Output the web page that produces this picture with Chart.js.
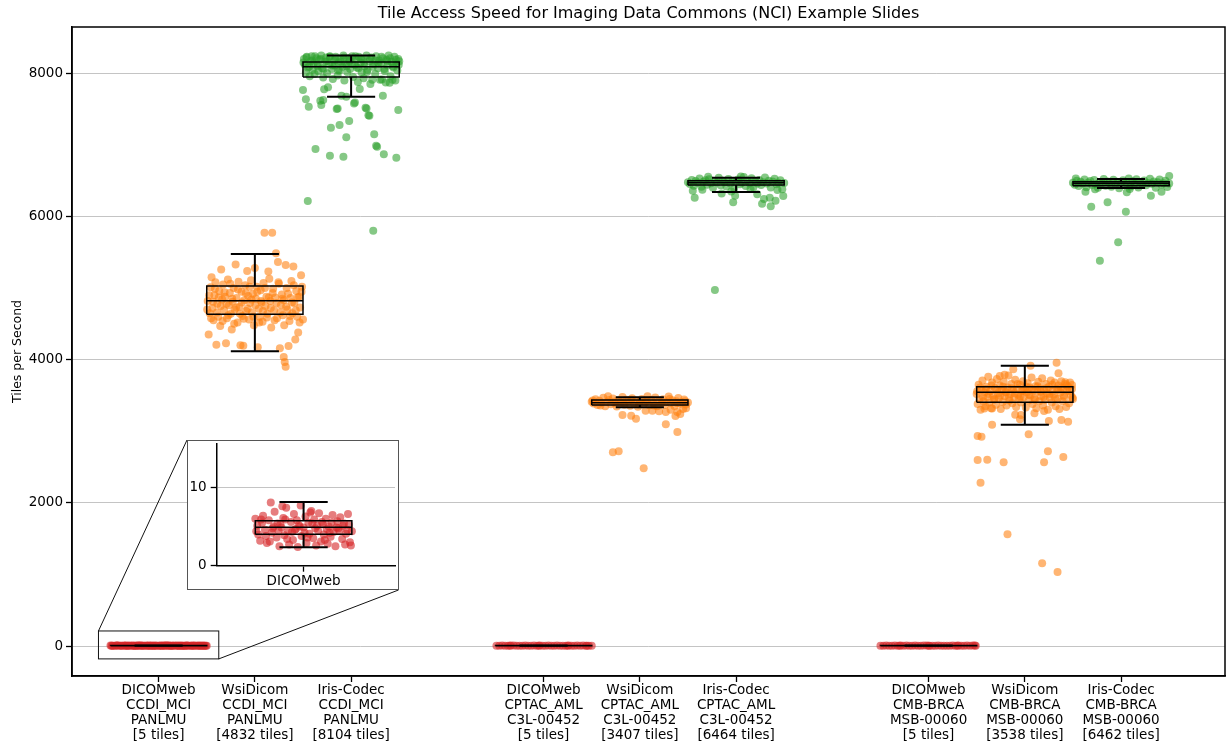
<!DOCTYPE html>
<html><head><meta charset="utf-8">
<script src="https://cdn.jsdelivr.net/npm/chart.js@4.4.0/dist/chart.umd.min.js"></script>
<style>
html,body{margin:0;padding:0;background:#fff;}
#main{position:absolute;left:0;top:0;}
#inset{position:absolute;left:187px;top:440px;}
</style>
</head><body>
<canvas id="main" width="1229" height="744"></canvas>
<canvas id="inset" width="212" height="150"></canvas>
<script>
// ---------- categories / tick labels ----------
const chartTitle = 'Tile Access Speed for Imaging Data Commons (NCI) Example Slides';
const positions = [0,1,2,4,5,6,8,9,10];
const labelServer = ['DICOMweb','WsiDicom','Iris-Codec','DICOMweb','WsiDicom','Iris-Codec','DICOMweb','WsiDicom','Iris-Codec'];
const labelCollection = ['CCDI_MCI','CCDI_MCI','CCDI_MCI','CPTAC_AML','CPTAC_AML','CPTAC_AML','CMB-BRCA','CMB-BRCA','CMB-BRCA'];
const labelSlide = ['PANLMU','PANLMU','PANLMU','C3L-00452','C3L-00452','C3L-00452','MSB-00060','MSB-00060','MSB-00060'];
const labelTiles = ['[5 tiles]','[4832 tiles]','[8104 tiles]','[5 tiles]','[3407 tiles]','[6464 tiles]','[5 tiles]','[3538 tiles]','[6462 tiles]'];
const yTicks = [0,2000,4000,6000,8000];
const insetYTicks = [0,10];

// ---------- box statistics ----------
const whiskLo = [2.35, 4117, 7673, 2.4, 3334, 6342, 2.5, 3091, 6398];
const q1      = [4.01, 4633, 7949, 4.0, 3366, 6440, 4.1, 3404, 6430];
const median  = [4.92, 4823, 8093, 4.8, 3399, 6472, 4.9, 3544, 6460];
const q3      = [5.75, 5029, 8158, 5.6, 3436, 6500, 5.7, 3622, 6486];
const whiskHi = [8.14, 5476, 8250, 7.9, 3474, 6541, 8.0, 3915, 6523];

// ---------- jittered observations: [offset, tiles/s] ----------
const dwCcdi = [[-0.48,5.1],[-0.45,3.2],[-0.42,6.4],[-0.40,4.6],[-0.38,2.9],[-0.36,5.8],[-0.34,8.1],[-0.33,4.2],[-0.30,6.9],[-0.28,3.6],[-0.27,5.4],[-0.25,2.5],[-0.23,4.9],[-0.21,6.1],[-0.20,3.9],[-0.18,7.4],[-0.16,4.4],[-0.15,2.7],[-0.13,5.6],[-0.11,3.3],[-0.10,6.6],[-0.08,4.7],[-0.06,2.4],[-0.05,5.2],[-0.03,7.7],[-0.02,3.8],[0.00,4.9],[0.02,6.3],[0.03,2.9],[0.05,5.5],[0.06,4.1],[0.08,7.0],[0.10,3.5],[0.11,5.9],[0.13,2.6],[0.15,4.5],[0.16,6.7],[0.18,3.1],[0.20,5.3],[0.21,4.0],[0.23,6.0],[0.25,2.8],[0.26,5.0],[0.28,3.7],[0.30,6.5],[0.31,4.3],[0.33,2.5],[0.35,5.7],[0.36,4.8],[0.38,6.2],[0.40,3.4],[0.41,5.1],[0.43,2.7],[0.45,4.6],[0.46,6.6],[0.48,3.0],[0.50,4.4],[-0.47,4.0],[-0.43,5.5],[-0.35,3.1],[-0.26,4.5],[-0.19,5.9],[-0.12,4.3],[-0.04,5.0],[0.04,3.6],[0.12,4.8],[0.19,5.6],[0.27,4.2],[0.34,4.9],[0.42,5.4],[0.49,2.6],[-0.31,5.0],[-0.09,4.6],[0.09,5.4],[0.24,4.7],[0.44,4.1],[-0.50,6.0],[-0.22,7.6],[0.07,6.8],
[-0.49,4.4],[-0.44,5.9],[-0.39,3.8],[-0.32,4.8],[-0.24,5.3],[-0.17,3.4],[-0.07,5.8],[0.01,4.2],[0.14,5.1],[0.22,3.3],[0.29,5.5],[0.37,4.5],[0.47,5.2]];
const wsiCcdi = [[0.10,5773],[0.18,5773],[0.22,5486],[0.24,5363],[0.32,5321],[0.32,3901],[0.31,3967],[0.30,4037],[0.35,4190],[-0.15,4200],[-0.40,4210],[-0.48,4350],[-0.12,4195],[0.03,4175],[0.42,4280],[0.45,4380],[-0.30,4230],[0.26,4160],[-0.20,5330],[-0.35,5260],[0.40,5300],[0.00,5280],[-0.45,5150],[0.48,5180],[-0.08,5240],[0.14,5230],
[-0.49,4820],[-0.47,4650],[-0.46,5010],[-0.44,4720],[-0.43,4550],[-0.42,4900],[-0.41,5080],[-0.39,4780],[-0.38,4600],[-0.37,4960],[-0.36,4470],[-0.34,4840],[-0.33,5050],[-0.32,4690],[-0.31,4880],[-0.29,4580],[-0.28,5120],[-0.27,4760],[-0.26,4930],[-0.25,4640],[-0.24,4420],[-0.23,4810],[-0.22,5000],[-0.21,4700],[-0.19,4860],[-0.18,4520],[-0.17,5090],[-0.16,4740],[-0.14,4950],[-0.13,4610],[-0.11,4830],[-0.10,5040],[-0.09,4680],[-0.07,4890],[-0.06,4560],[-0.05,4790],[-0.04,5110],[-0.03,4660],[-0.02,4920],[-0.01,4480],[0.01,4850],[0.02,5020],[0.04,4710],[0.05,4600],[0.06,4970],[0.07,4800],[0.08,4530],[0.09,5070],[0.11,4750],[0.12,4880],[0.13,4640],[0.15,5130],[0.16,4820],[0.17,4450],[0.19,4990],[0.20,4690],[0.21,4870],[0.23,4580],[0.25,5060],[0.27,4760],[0.28,4910],[0.29,4620],[0.30,4830],[0.33,5000],[0.34,4700],[0.36,4540],[0.37,4860],[0.38,5100],[0.39,4650],[0.41,4790],[0.43,4960],[0.44,4600],[0.46,4880],[0.47,4730],[0.49,5020],[0.50,4560],
[-0.495,4700],[-0.475,4900],[-0.455,4580],[-0.435,4810],[-0.415,4990],[-0.395,4660],[-0.375,4870],[-0.355,4750],[-0.335,4540],[-0.315,4940],[-0.295,4780],[-0.275,4620],[-0.255,5060],[-0.235,4850],[-0.215,4500],[-0.195,4730],[-0.175,4980],[-0.155,4640],[-0.135,4800],[-0.115,4570],[-0.095,4930],[-0.075,4710],[-0.055,5020],[-0.035,4840],[-0.015,4600],[0.005,4760],[0.025,4950],[0.045,4520],[0.065,4820],[0.085,4680],[0.105,5000],[0.125,4590],[0.145,4870],[0.165,4720],[0.185,4930],[0.205,4550],[0.225,4790],[0.245,5080],[0.265,4660],[0.285,4850],[0.305,4480],[0.325,4740],[0.345,4920],[0.365,4610],[0.385,4800],[0.405,5040],[0.425,4690],[0.445,4870],[0.465,4520],[0.485,4950]];
const irisCcdi = [[-0.50,7767],[-0.47,7637],[-0.44,7533],[-0.45,6216],[-0.37,6942],[-0.32,7617],[-0.31,7557],[-0.29,7627],[-0.28,7776],[-0.24,7804],[-0.22,6849],[-0.21,7240],[-0.15,7501],[-0.14,7510],[-0.10,7687],[-0.08,6835],[-0.05,7673],[-0.05,7106],[-0.02,7333],[0.03,7580],[0.04,7594],[0.09,7781],[0.15,7519],[0.16,7510],[0.18,7413],[0.19,7408],[0.22,7910],[0.24,7148],[0.26,6989],[0.27,6975],[0.23,5801],[0.32,7915],[0.33,7687],[0.34,6868],[0.40,7868],[0.43,7910],[0.47,6821],[0.49,7487],[-0.12,7277],
[-0.49,8200],[-0.48,8120],[-0.47,8010],[-0.46,8230],[-0.45,8080],[-0.43,7960],[-0.42,8170],[-0.41,8240],[-0.40,8050],[-0.39,8140],[-0.38,7990],[-0.36,8210],[-0.35,8100],[-0.34,8030],[-0.33,8190],[-0.31,8250],[-0.30,8070],[-0.29,7940],[-0.27,8160],[-0.26,8220],[-0.25,8000],[-0.23,8130],[-0.22,8240],[-0.20,8060],[-0.19,7920],[-0.18,8180],[-0.17,8110],[-0.16,8230],[-0.14,7970],[-0.13,8150],[-0.12,8040],[-0.11,8200],[-0.09,8090],[-0.08,8250],[-0.07,7900],[-0.06,8130],[-0.04,8020],[-0.03,8210],[-0.02,8170],[-0.01,8060],[0.01,8240],[0.02,7950],[0.04,8120],[0.05,8190],[0.06,8080],[0.07,7880],[0.08,8230],[0.10,8150],[0.11,8010],[0.12,8200],[0.13,7930],[0.14,8100],[0.16,8250],[0.17,8050],[0.19,8170],[0.20,7850],[0.21,8220],[0.23,8130],[0.25,7990],[0.26,8240],[0.28,8070],[0.29,8180],[0.30,7910],[0.31,8140],[0.33,8210],[0.35,8030],[0.36,7870],[0.37,8190],[0.38,8110],[0.39,8250],[0.41,7960],[0.42,8160],[0.44,8080],[0.45,8230],[0.46,7900],[0.47,8130],[0.48,8040],[0.49,8200],[0.50,8170],
[-0.495,8150],[-0.465,8220],[-0.435,8090],[-0.405,8180],[-0.375,8240],[-0.345,8120],[-0.315,8200],[-0.285,8060],[-0.255,8170],[-0.225,8230],[-0.195,8110],[-0.165,8190],[-0.135,8040],[-0.105,8160],[-0.075,8220],[-0.045,8100],[-0.015,8180],[0.015,8130],[0.045,8240],[0.075,8070],[0.105,8200],[0.135,8150],[0.165,8020],[0.195,8210],[0.225,8090],[0.255,8180],[0.285,8140],[0.315,8230],[0.345,8060],[0.375,8170],[0.405,8210],[0.435,8100],[0.465,8190],[0.495,8120]];
const dwCptac = [[-0.49,4.8],[-0.46,3.1],[-0.43,6.2],[-0.40,4.3],[-0.37,2.6],[-0.34,5.7],[-0.31,7.6],[-0.28,4.0],[-0.25,5.2],[-0.22,3.4],[-0.19,6.5],[-0.16,4.6],[-0.13,2.9],[-0.10,5.5],[-0.07,3.8],[-0.04,7.1],[-0.01,4.9],[0.02,3.2],[0.05,5.9],[0.08,4.4],[0.11,2.7],[0.14,6.3],[0.17,4.1],[0.20,5.3],[0.23,3.6],[0.26,7.3],[0.29,4.7],[0.32,3.0],[0.35,5.6],[0.38,4.2],[0.41,6.0],[0.44,3.5],[0.47,5.0],[0.50,4.5],[-0.35,4.9],[-0.05,4.4],[0.25,5.1],[0.45,2.5]];
const wsiCptac = [[-0.50,3412],[-0.48,3388],[-0.46,3447],[-0.44,3365],[-0.42,3425],[-0.40,3398],[-0.38,3468],[-0.36,3350],[-0.34,3408],[-0.32,3436],[-0.30,3376],[-0.28,3458],[-0.26,3392],[-0.24,3345],[-0.22,3428],[-0.20,3402],[-0.18,3478],[-0.16,3370],[-0.14,3440],[-0.12,3415],[-0.10,3356],[-0.08,3462],[-0.06,3385],[-0.04,3430],[-0.02,3342],[0.00,3418],[0.02,3452],[0.04,3380],[0.06,3404],[0.08,3488],[0.10,3364],[0.12,3438],[0.14,3396],[0.16,3470],[0.18,3348],[0.20,3422],[0.22,3390],[0.24,3446],[0.26,3368],[0.28,3410],[0.30,3484],[0.32,3394],[0.34,3434],[0.36,3354],[0.38,3420],[0.40,3464],[0.42,3384],[0.44,3406],[0.46,3444],[0.48,3374],[0.50,3400],[-0.49,3430],[-0.41,3360],[-0.33,3490],[-0.25,3420],[-0.17,3395],[-0.09,3440],[-0.01,3375],[0.07,3425],[0.15,3360],[0.23,3410],[0.31,3450],[0.39,3390],[0.47,3420],
[-0.18,3227],[-0.09,3217],[-0.04,3175],[0.06,3287],[0.13,3287],[0.20,3280],[0.27,3268],[0.27,3097],[0.37,3213],[0.39,3268],[0.42,3240],[0.39,2989],[-0.28,2706],[-0.22,2720],[0.04,2482],[0.32,3300],[0.45,3310],[0.48,3320]];
const irisCptac = [[-0.50,6480],[-0.48,6455],[-0.46,6510],[-0.44,6430],[-0.42,6495],[-0.40,6470],[-0.38,6530],[-0.36,6415],[-0.34,6485],[-0.32,6505],[-0.30,6445],[-0.28,6520],[-0.26,6465],[-0.24,6400],[-0.22,6490],[-0.20,6475],[-0.18,6540],[-0.16,6435],[-0.14,6500],[-0.12,6480],[-0.10,6420],[-0.08,6525],[-0.06,6460],[-0.04,6495],[-0.02,6390],[0.00,6485],[0.02,6515],[0.04,6450],[0.06,6470],[0.08,6550],[0.10,6425],[0.12,6500],[0.14,6465],[0.16,6535],[0.18,6410],[0.20,6490],[0.22,6460],[0.24,6510],[0.26,6440],[0.28,6478],[0.30,6545],[0.32,6462],[0.34,6498],[0.36,6405],[0.38,6488],[0.40,6528],[0.42,6452],[0.44,6472],[0.46,6505],[0.48,6380],[0.50,6468],[-0.45,6360],[-0.35,6375],[-0.05,6350],[0.15,6385],[0.43,6370],[-0.29,6555],[0.05,6560],
[-0.43,6262],[-0.03,6198],[-0.01,6290],[0.27,6178],[0.29,6244],[0.35,6262],[0.41,6220],[0.49,6286],[0.36,6142],[-0.22,4973],[-0.15,6320],[0.22,6310]];
const dwCmb = [[-0.50,5.0],[-0.47,3.6],[-0.44,6.8],[-0.41,4.2],[-0.38,2.8],[-0.35,5.4],[-0.32,4.7],[-0.29,7.2],[-0.26,3.3],[-0.23,5.8],[-0.20,4.4],[-0.17,2.5],[-0.14,6.1],[-0.11,4.9],[-0.08,3.9],[-0.05,5.6],[-0.02,7.9],[0.01,4.3],[0.04,3.0],[0.07,5.3],[0.10,6.6],[0.13,4.0],[0.16,2.7],[0.19,5.1],[0.22,4.6],[0.25,6.9],[0.28,3.5],[0.31,5.7],[0.34,4.8],[0.37,2.9],[0.40,6.2],[0.43,4.1],[0.46,5.5],[0.49,3.7],[-0.30,4.5],[0.00,5.2],[0.30,4.4],[0.48,5.9]];
const wsiCmb = [[-0.50,3520],[-0.49,3380],[-0.48,3650],[-0.47,3450],[-0.46,3300],[-0.45,3580],[-0.44,3710],[-0.43,3420],[-0.42,3540],[-0.41,3350],[-0.40,3620],[-0.39,3480],[-0.38,3760],[-0.37,3400],[-0.36,3560],[-0.35,3320],[-0.34,3680],[-0.33,3500],[-0.32,3440],[-0.31,3600],[-0.30,3370],[-0.29,3730],[-0.28,3530],[-0.27,3460],[-0.26,3640],[-0.25,3310],[-0.24,3570],[-0.23,3410],[-0.22,3690],[-0.21,3490],[-0.20,3550],[-0.19,3360],[-0.18,3610],[-0.17,3780],[-0.16,3430],[-0.15,3520],[-0.14,3660],[-0.13,3390],[-0.12,3580],[-0.11,3470],[-0.10,3720],[-0.09,3340],[-0.08,3600],[-0.07,3510],[-0.06,3450],[-0.05,3650],[-0.04,3400],[-0.03,3560],[-0.02,3700],[-0.01,3480],[0.00,3590],[0.01,3330],[0.02,3540],[0.03,3670],[0.04,3430],[0.05,3610],[0.06,3500],[0.07,3750],[0.08,3380],[0.09,3570],[0.10,3460],[0.11,3630],[0.12,3320],[0.13,3550],[0.14,3690],[0.15,3420],[0.16,3600],[0.17,3490],[0.18,3740],[0.19,3360],[0.20,3580],[0.21,3440],[0.22,3660],[0.23,3530],[0.24,3300],[0.25,3620],[0.26,3470],[0.27,3710],[0.28,3400],[0.29,3560],[0.30,3510],[0.31,3680],[0.32,3350],[0.33,3590],[0.34,3450],[0.35,3640],[0.36,3310],[0.37,3540],[0.38,3700],[0.39,3420],[0.40,3600],[0.41,3480],[0.42,3660],[0.43,3340],[0.44,3570],[0.45,3620],[0.46,3390],[0.47,3680],[0.48,3500],[0.49,3590],[0.50,3450],
[-0.495,3560],[-0.465,3610],[-0.435,3480],[-0.405,3590],[-0.375,3520],[-0.345,3640],[-0.315,3450],[-0.285,3580],[-0.255,3500],[-0.225,3620],[-0.195,3540],[-0.165,3470],[-0.135,3600],[-0.105,3530],[-0.075,3660],[-0.045,3490],[-0.015,3570],[0.015,3620],[0.045,3510],[0.075,3590],[0.105,3440],[0.135,3630],[0.165,3550],[0.195,3480],[0.225,3600],[0.255,3520],[0.285,3650],[0.315,3460],[0.345,3580],[0.375,3610],[0.405,3500],[0.435,3640],[0.465,3560],[0.495,3470],
[-0.49,2933],[-0.45,2924],[-0.34,3091],[0.04,2957],[0.24,2720],[0.40,2640],[-0.49,2598],[-0.39,2602],[-0.22,2566],[0.20,2566],[-0.46,2281],[-0.18,1560],[0.18,1155],[0.34,1034],[0.33,3957],[0.06,3915],[-0.05,3166],[-0.04,3227],[0.25,3143],[0.38,3157],[0.45,3133],[-0.34,3319],[-0.42,3319],[0.20,3283],[-0.26,3771],[-0.21,3790],[-0.12,3865],[0.35,3810],[0.42,3683],[0.49,3646],[-0.10,3230],[0.10,3250]];
const irisCmb = [[-0.50,6470],[-0.48,6445],[-0.46,6500],[-0.44,6425],[-0.42,6485],[-0.40,6460],[-0.38,6515],[-0.36,6410],[-0.34,6475],[-0.32,6495],[-0.30,6440],[-0.28,6508],[-0.26,6455],[-0.24,6400],[-0.22,6480],[-0.20,6465],[-0.18,6525],[-0.16,6430],[-0.14,6490],[-0.12,6470],[-0.10,6415],[-0.08,6512],[-0.06,6450],[-0.04,6485],[-0.02,6395],[0.00,6475],[0.02,6505],[0.04,6440],[0.06,6462],[0.08,6530],[0.10,6420],[0.12,6492],[0.14,6458],[0.16,6520],[0.18,6405],[0.20,6482],[0.22,6452],[0.24,6502],[0.26,6435],[0.28,6468],[0.30,6528],[0.32,6456],[0.34,6488],[0.36,6402],[0.38,6478],[0.40,6518],[0.42,6446],[0.44,6465],[0.46,6498],[0.48,6412],[0.50,6460],[-0.47,6530],[-0.27,6380],[0.09,6385],
[-0.37,6346],[-0.31,6136],[-0.14,6198],[0.05,6066],[0.06,6337],[0.31,6290],[0.42,6346],[0.50,6565],[-0.03,5639],[-0.22,5382]];

const groups = [dwCcdi, wsiCcdi, irisCcdi, dwCptac, wsiCptac, irisCptac, dwCmb, wsiCmb, irisCmb];
const serverColor = {
  'DICOMweb': 'rgba(214,39,40,0.6)',
  'WsiDicom': 'rgba(255,127,14,0.58)',
  'Iris-Codec': 'rgba(44,160,44,0.58)'
};

// ---------- styles ----------
const FONT = "'DejaVu Sans', 'Liberation Sans', sans-serif";
Chart.defaults.font.family = FONT;
Chart.defaults.color = '#000';
const BOX_HW = 0.5, CAP_HW = 0.25;
const TICK_FONT = {size: 13.5, lineHeight: 1.12};

function boxSegments(pos, i) {
  const gap = {x: pos, y: null};
  return [
    {x:pos-BOX_HW,y:q1[i]},{x:pos+BOX_HW,y:q1[i]},{x:pos+BOX_HW,y:q3[i]},{x:pos-BOX_HW,y:q3[i]},{x:pos-BOX_HW,y:q1[i]},gap,
    {x:pos-BOX_HW,y:median[i]},{x:pos+BOX_HW,y:median[i]},gap
  ];
}
function whiskerSegments(pos, i) {
  const gap = {x: pos, y: null};
  return [
    {x:pos,y:q3[i]},{x:pos,y:whiskHi[i]},gap,
    {x:pos-CAP_HW,y:whiskHi[i]},{x:pos+CAP_HW,y:whiskHi[i]},gap,
    {x:pos,y:q1[i]},{x:pos,y:whiskLo[i]},gap,
    {x:pos-CAP_HW,y:whiskLo[i]},{x:pos+CAP_HW,y:whiskLo[i]},gap
  ];
}
function pointDataset(i) {
  return {
    type: 'scatter', order: 2,
    data: groups[i].map(p => ({x: positions[i] + p[0], y: p[1]})),
    backgroundColor: serverColor[labelServer[i]],
    borderWidth: 0, pointRadius: 4, pointHoverRadius: 4
  };
}
function lineDataset(data, w) {
  return {type:'line', order: 1, data, showLine: true, spanGaps: false, borderColor:'#000', borderWidth: w,
          pointRadius: 0, pointHoverRadius: 0, fill: false, tension: 0};
}

const mainDatasets = [];
positions.forEach((pos, i) => mainDatasets.push(pointDataset(i)));
let boxData = [], whiskData = [];
positions.forEach((pos, i) => { boxData = boxData.concat(boxSegments(pos, i)); whiskData = whiskData.concat(whiskerSegments(pos, i)); });
mainDatasets.push(lineDataset(boxData, 1.5));
mainDatasets.push(lineDataset(whiskData, 2));

// zoom rectangle (data coords) shown in the inset
const zoomX = [-0.625, 0.625];
const zoomY = [-180, 210];

const framePlugin = {
  id: 'frame',
  afterDraw(chart) {
    const {ctx, chartArea: a, scales: {x, y}} = chart;
    ctx.save();
    // title centred over the axes
    ctx.fillStyle = '#000';
    ctx.font = '16px ' + FONT;
    ctx.textAlign = 'center';
    ctx.textBaseline = 'middle';
    ctx.fillText(chartTitle, (a.left + a.right) / 2, 14);
    // frame
    ctx.strokeStyle = '#000';
    ctx.lineWidth = 1.5;
    ctx.strokeRect(a.left, a.top, a.right - a.left, a.bottom - a.top);
    // zoom rectangle
    const rx0 = x.getPixelForValue(zoomX[0]), rx1 = x.getPixelForValue(zoomX[1]);
    const ry0 = y.getPixelForValue(zoomY[1]), ry1 = y.getPixelForValue(zoomY[0]);
    ctx.lineWidth = 1;
    ctx.strokeStyle = '#111';
    ctx.strokeRect(rx0, ry0, rx1 - rx0, ry1 - ry0);
    // connectors to inset frame
    ctx.beginPath();
    ctx.moveTo(rx0, ry0); ctx.lineTo(187, 440);
    ctx.moveTo(rx1, ry1); ctx.lineTo(398.5, 590);
    ctx.stroke();
    ctx.restore();
  }
};

new Chart(document.getElementById('main'), {
  type: 'scatter',
  data: {datasets: mainDatasets},
  options: {
    responsive: false, animation: false, devicePixelRatio: 1, events: [],
    layout: {padding: {left: 0, right: 1, top: 27, bottom: 0}},
    plugins: {legend: {display: false}, tooltip: {enabled: false}, title: {display: false}},
    scales: {
      x: {
        type: 'linear', min: -0.9, max: 11.08,
        afterBuildTicks: s => { s.ticks = positions.map(v => ({value: v})); },
        ticks: {autoSkip: false, maxRotation: 0, minRotation: 0, font: TICK_FONT, color: '#000', padding: 1,
          callback: v => { const i = positions.indexOf(v); return i < 0 ? '' : [labelServer[i], labelCollection[i], labelSlide[i], labelTiles[i]]; }},
        grid: {drawOnChartArea: false, drawTicks: true, tickLength: 6, tickColor: '#000', tickWidth: 1.3},
        border: {display: true, color: '#000', width: 1.5},
        afterFit: s => { s.height = 68; }
      },
      y: {
        type: 'linear', min: -419, max: 8647,
        afterBuildTicks: s => { s.ticks = yTicks.map(v => ({value: v})); },
        ticks: {font: TICK_FONT, color: '#000', padding: 3, callback: v => String(v)},
        grid: {color: 'rgba(176,176,176,0.75)', lineWidth: 1, drawTicks: true, tickLength: 6, tickColor: '#000', tickWidth: 1.3},
        border: {display: true, color: '#000', width: 1.5},
        title: {display: true, text: 'Tiles per Second', font: {size: 12.5}, color: '#000', padding: {top: 10, bottom: 0}},
        afterFit: s => { s.width = 72; }
      }
    }
  },
  plugins: [framePlugin]
});

// ---------- inset ----------
const insetDatasets = [
  {type: 'scatter', order: 2, data: dwCcdi.map(p => ({x: p[0], y: p[1]})), backgroundColor: serverColor['DICOMweb'],
   borderWidth: 0, pointRadius: 4, pointHoverRadius: 4},
  lineDataset(boxSegments(0, 0), 1.5),
  lineDataset(whiskerSegments(0, 0), 2)
];
const insetFrame = {
  id: 'insetFrame',
  beforeDraw(chart) { const c = chart.ctx; c.save(); c.fillStyle = '#fff'; c.fillRect(0, 0, chart.width, chart.height); c.restore(); },
  afterDraw(chart) { const c = chart.ctx; c.save(); c.strokeStyle = '#555'; c.lineWidth = 1; c.strokeRect(0.5, 0.5, chart.width - 1, chart.height - 1); c.restore(); }
};
new Chart(document.getElementById('inset'), {
  type: 'scatter',
  data: {datasets: insetDatasets},
  options: {
    responsive: false, animation: false, devicePixelRatio: 1, events: [],
    layout: {padding: 0},
    plugins: {legend: {display: false}, tooltip: {enabled: false}},
    scales: {
      x: {type: 'linear', min: -0.9, max: 0.947,
        afterBuildTicks: s => { s.ticks = [{value: 0}]; },
        ticks: {autoSkip: false, maxRotation: 0, font: TICK_FONT, color: '#000', padding: 2, callback: () => labelServer[0]},
        grid: {drawOnChartArea: false, drawTicks: true, tickLength: 6, tickColor: '#000', tickWidth: 1.3},
        border: {display: true, color: '#000', width: 1.5},
        afterFit: s => { s.height = 24.3; s.paddingLeft = 0; s.paddingRight = 0; }},
      y: {type: 'linear', min: 0, max: 15.57,
        afterBuildTicks: s => { s.ticks = insetYTicks.map(v => ({value: v})); },
        ticks: {font: TICK_FONT, color: '#000', padding: 4, callback: v => String(v)},
        grid: {color: 'rgba(176,176,176,0.75)', lineWidth: 1, drawTicks: true, tickLength: 6, tickColor: '#000', tickWidth: 1.3},
        border: {display: true, color: '#000', width: 1.5},
        afterFit: s => { s.width = 29.7; s.paddingTop = 0; s.paddingBottom = 0; }}
    }
  },
  plugins: [insetFrame]
});
</script>
</body></html>
